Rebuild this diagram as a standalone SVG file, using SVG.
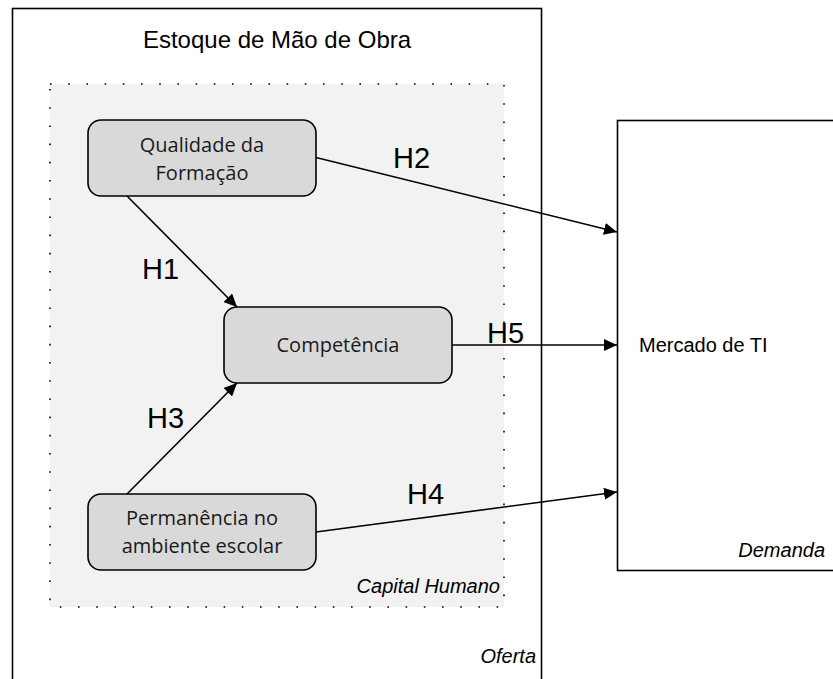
<svg xmlns="http://www.w3.org/2000/svg" width="833" height="679" viewBox="0 0 833 679">
<defs>
<style>
.frame{fill:#fff;stroke:#000;stroke-width:1.6}
.cap{fill:#f2f2f2;stroke:#000;stroke-width:1.6;stroke-dasharray:1.6 16.6}
.node{fill:#d9d9d9;stroke:#000;stroke-width:1.6}
.nt{font-family:"Open Sans","Noto Sans",sans-serif;font-size:20px;fill:#1a1a1a;text-anchor:middle}
.lbl{font-family:"Liberation Sans",Arial,sans-serif;font-size:29px;fill:#000}
.it{font-family:"Liberation Sans",Arial,sans-serif;font-size:20px;font-style:italic;fill:#000;text-anchor:end}
.conn{stroke:#000;stroke-width:1.6;fill:none;marker-end:url(#ah)}
</style>
<marker id="ah" markerUnits="userSpaceOnUse" markerWidth="14" markerHeight="12" refX="13" refY="6" orient="auto">
<path d="M0,0 L13,6 L0,12 Z" fill="#000"/>
</marker>
</defs>
<rect width="833" height="679" fill="#fff"/>
<g id="oferta">
<rect class="frame" x="12.5" y="8.5" width="529" height="690"/>
<text x="277" y="48" font-family="Liberation Sans, Arial, sans-serif" font-size="24" text-anchor="middle">Estoque de Mão de Obra</text>
<text class="it" x="536" y="663">Oferta</text>
</g>
<g id="capital-humano">
<rect class="cap" x="50" y="84" width="454" height="523"/>
<text class="it" x="500" y="593">Capital Humano</text>
</g>
<g id="demanda">
<rect class="frame" x="617.5" y="120.5" width="240" height="450"/>
<text x="639" y="352" font-family="Liberation Sans, Arial, sans-serif" font-size="20">Mercado de TI</text>
<text class="it" x="825" y="557">Demanda</text>
</g>
<g id="qualidade">
<rect class="node" x="88" y="120" width="228" height="76" rx="13"/>
<text class="nt" x="202" y="152">Qualidade da</text>
<text class="nt" x="202" y="180">Formação</text>
</g>
<g id="competencia">
<rect class="node" x="224" y="307" width="228" height="76" rx="13"/>
<text class="nt" x="338" y="352">Competência</text>
</g>
<g id="permanencia">
<rect class="node" x="88" y="494" width="228" height="76" rx="13"/>
<text class="nt" x="202" y="525">Permanência no</text>
<text class="nt" x="202" y="553">ambiente escolar</text>
</g>
<g id="connectors">
<line class="conn" x1="127" y1="196" x2="237" y2="307"/>
<line class="conn" x1="316" y1="157.5" x2="617" y2="232"/>
<line class="conn" x1="127" y1="494" x2="237" y2="383"/>
<line class="conn" x1="452" y1="345" x2="617" y2="345"/>
<line class="conn" x1="316" y1="532" x2="617" y2="492"/>
<text class="lbl" x="142" y="279">H1</text>
<text class="lbl" x="393" y="168">H2</text>
<text class="lbl" x="147" y="428">H3</text>
<text class="lbl" x="407" y="504">H4</text>
<text class="lbl" x="487" y="343">H5</text>
</g>
</svg>
